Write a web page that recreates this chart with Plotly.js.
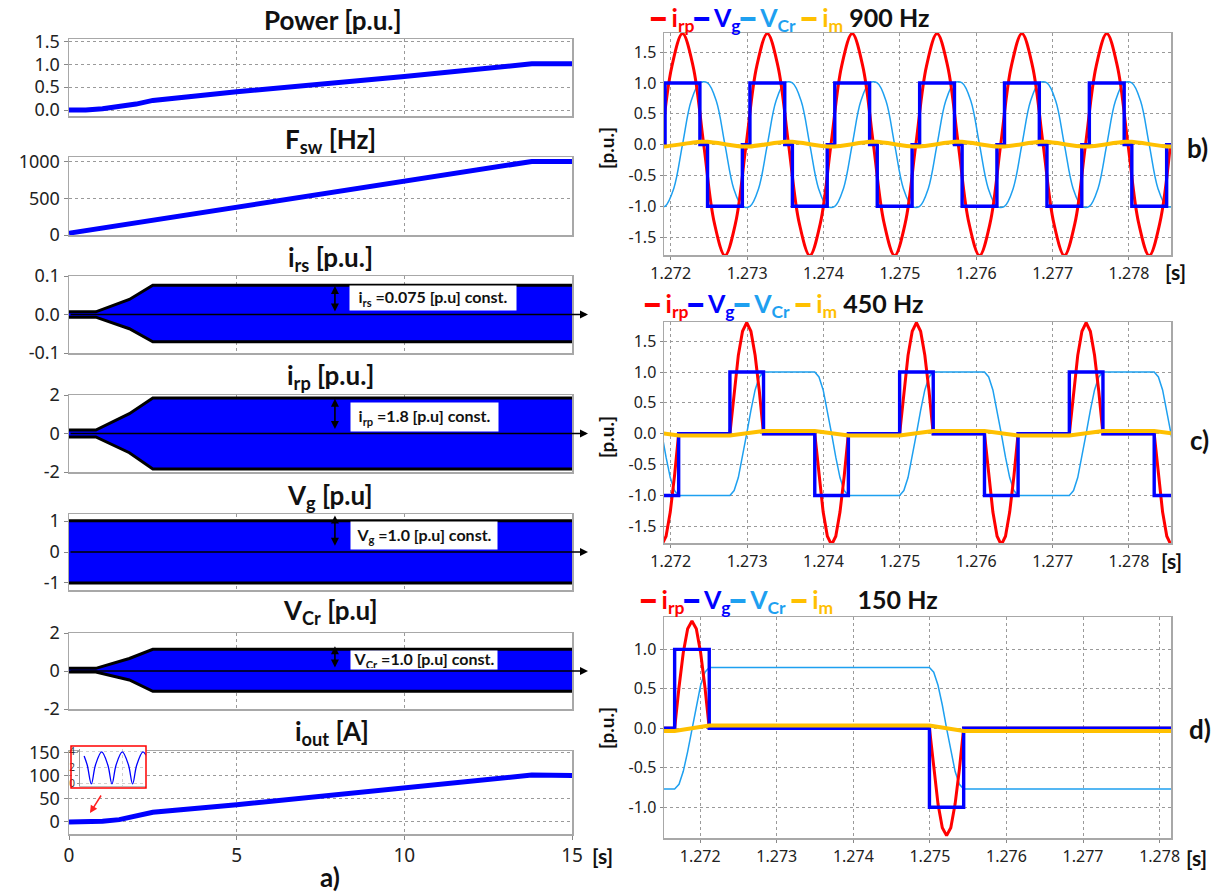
<!DOCTYPE html>
<html><head><meta charset="utf-8">
<script src="https://cdn.plot.ly/plotly-3.0.1.min.js"></script>
<style>html,body{margin:0;padding:0;background:#fff}</style>
</head><body><div id="chart" style="width:1218px;height:894px"></div>
<script>
// ---------- Left column (a) ----------
const tSlow = [0, 0.5, 1.0, 1.5, 2.0, 2.5, 5, 10, 13.8, 15];
const power = [0, 0.0, 0.03, 0.08, 0.13, 0.21, 0.40, 0.73, 1.01, 1.01];
const iout = [0, 0, 1.5, 5, 12, 21, 37, 74, 101, 100];
const tFsw = [0, 13.8, 15];
const fsw = [25, 1000, 1000];
const tEnv = [0, 0.8, 1.8, 2.5, 15];
const irsUp = [0.007, 0.007, 0.039, 0.076, 0.076];
const irsLo = [-0.007, -0.007, -0.037, -0.071, -0.071];
const irpUp = [0.18, 0.18, 1.03, 1.84, 1.84];
const irpLo = [-0.18, -0.18, -1.0, -1.84, -1.84];
const vgUp = [1.01, 1.01, 1.01, 1.01, 1.01];
const vgLo = [-1.0, -1.0, -1.0, -1.0, -1.0];
const vcrUp = [0.14, 0.14, 0.66, 1.14, 1.14];
const vcrLo = [-0.05, -0.05, -0.47, -1.07, -1.07];
// inset (rectified output current, A)
const insT = [0, 1.5, 3.5, 5.5, 8.5, 11.5, 13.5, 15.5, 18.5, 21.5, 23.5, 25.5, 28.5, 30];
const insI = [3.4, 2.3, 0, 2.3, 3.9, 2.3, 0, 2.3, 3.9, 2.3, 0, 2.3, 3.9, 3.5];

// ---------- b) 900 Hz ----------
const tRpB = [1.271876,1.272015,1.272154,1.272293,1.272432,1.272571,1.272710,1.272849,
  1.272987,1.273126,1.273265,1.273404,1.273543,1.273682,1.273821,1.273960,
  1.274098,1.274237,1.274376,1.274515,1.274654,1.274793,1.274932,1.275071,
  1.275209,1.275348,1.275487,1.275626,1.275765,1.275904,1.276043,1.276182,
  1.276320,1.276459,1.276598,1.276737,1.276876,1.277015,1.277154,1.277293,
  1.277431,1.277570,1.277709,1.277848,1.277987,1.278126,1.278265,1.278404,1.278542];
const irpB = [0,1.27,1.8,1.27,0,-1.27,-1.8,-1.27, 0,1.27,1.8,1.27,0,-1.27,-1.8,-1.27,
  0,1.27,1.8,1.27,0,-1.27,-1.8,-1.27, 0,1.27,1.8,1.27,0,-1.27,-1.8,-1.27,
  0,1.27,1.8,1.27,0,-1.27,-1.8,-1.27, 0,1.27,1.8,1.27,0,-1.27,-1.8,-1.27, 0];
const tVgB = [1.271900,1.271926,1.272382,1.272482,1.272938,1.273037,1.273493,1.273593,1.274049,
  1.274148,1.274604,1.274704,1.275160,1.275259,1.275715,1.275815,1.276271,1.276370,1.276826,
  1.276926,1.277382,1.277481,1.277937,1.278037,1.278493,1.278600];
const vgB = [0,1,0,-1,0,1,0,-1,0,1,0,-1,0,1,0,-1,0,1,0,-1,0,1,0,-1,0,0];
const imB = [-0.03,-0.03,0.045,0.045,-0.03,-0.03,0.045,0.045,-0.03,-0.03,0.045,0.045,-0.03,
  -0.03,0.045,0.045,-0.03,-0.03,0.045,0.045,-0.03,-0.03,0.045,0.045,-0.03,-0.03];
const tCrB = [1.271900,
  1.271926,1.272040,1.272154,1.272268,1.272382, 1.272482,1.272596,1.272710,1.272824,1.272938,
  1.273037,1.273151,1.273265,1.273379,1.273493, 1.273593,1.273707,1.273821,1.273935,1.274049,
  1.274148,1.274262,1.274376,1.274490,1.274604, 1.274704,1.274818,1.274932,1.275046,1.275160,
  1.275259,1.275373,1.275487,1.275601,1.275715, 1.275815,1.275929,1.276043,1.276157,1.276271,
  1.276370,1.276484,1.276598,1.276712,1.276826, 1.276926,1.277040,1.277154,1.277268,1.277382,
  1.277481,1.277595,1.277709,1.277823,1.277937, 1.278037,1.278151,1.278265,1.278379,1.278493,
  1.278600];
const vcrB = [-1,
  -1,-0.71,0,0.71,1, 1,0.71,0,-0.71,-1,
  -1,-0.71,0,0.71,1, 1,0.71,0,-0.71,-1,
  -1,-0.71,0,0.71,1, 1,0.71,0,-0.71,-1,
  -1,-0.71,0,0.71,1, 1,0.71,0,-0.71,-1,
  -1,-0.71,0,0.71,1, 1,0.71,0,-0.71,-1,
  -1,-0.71,0,0.71,1, 1,0.71,0,-0.71,-1,
  -1];

// ---------- c) 450 Hz ----------
const tPulseC = [
  1.271664,1.271719,1.271774,1.271829,1.271884,1.271939,1.271994,1.272049,1.272104,
  1.272775,1.272830,1.272885,1.272940,1.272995,1.273050,1.273105,1.273160,1.273215,
  1.273886,1.273941,1.273996,1.274051,1.274106,1.274161,1.274216,1.274271,1.274326,
  1.274997,1.275052,1.275107,1.275162,1.275217,1.275272,1.275327,1.275382,1.275437,
  1.276108,1.276163,1.276218,1.276273,1.276328,1.276383,1.276438,1.276493,1.276548,
  1.277219,1.277274,1.277329,1.277384,1.277439,1.277494,1.277549,1.277604,1.277659,
  1.278330,1.278385,1.278440,1.278495,1.278550,1.278605,1.278660,1.278715,1.278770];
const irpC = [
  0,-0.69,-1.27,-1.66,-1.8,-1.66,-1.27,-0.69,0,
  0,0.69,1.27,1.66,1.8,1.66,1.27,0.69,0,
  0,-0.69,-1.27,-1.66,-1.8,-1.66,-1.27,-0.69,0,
  0,0.69,1.27,1.66,1.8,1.66,1.27,0.69,0,
  0,-0.69,-1.27,-1.66,-1.8,-1.66,-1.27,-0.69,0,
  0,0.69,1.27,1.66,1.8,1.66,1.27,0.69,0,
  0,-0.69,-1.27,-1.66,-1.8,-1.66,-1.27,-0.69,0];
const vcrC = [
  1,0.92,0.71,0.38,0,-0.38,-0.71,-0.92,-1,
  -1,-0.92,-0.71,-0.38,0,0.38,0.71,0.92,1,
  1,0.92,0.71,0.38,0,-0.38,-0.71,-0.92,-1,
  -1,-0.92,-0.71,-0.38,0,0.38,0.71,0.92,1,
  1,0.92,0.71,0.38,0,-0.38,-0.71,-0.92,-1,
  -1,-0.92,-0.71,-0.38,0,0.38,0.71,0.92,1,
  1,0.92,0.71,0.38,0,-0.38,-0.71,-0.92,-1];
const tVgC = [1.271900,1.272104,1.272775,1.273215,1.273886,1.274326,1.274997,1.275437,
  1.276108,1.276548,1.277219,1.277659,1.278330,1.278600];
const vgC = [-1,0,1,0,-1,0,1,0,-1,0,1,0,-1,-1];
const imC = [0.005,-0.03,-0.03,0.045,0.045,-0.03,-0.03,0.045,0.045,-0.03,-0.03,0.045,0.045,0.0];

// ---------- d) 150 Hz ----------
const tPulseD = [1.271500,
  1.271666,1.271723,1.271779,1.271836,1.271892,1.271949,1.272005,1.272062,1.272118,
  1.274994,1.275050,1.275106,1.275162,1.275218,1.275273,1.275329,1.275385,1.275441,
  1.278200];
const irpD = [0, 0,0.52,0.96,1.26,1.36,1.26,0.96,0.52,0, 0,-0.52,-0.96,-1.26,-1.36,-1.26,-0.96,-0.52,0, 0];
const vcrD = [-0.77, -0.77,-0.71,-0.545,-0.295,0,0.295,0.545,0.71,0.77,
  0.77,0.71,0.545,0.295,0,-0.295,-0.545,-0.71,-0.77, -0.77];
const tVgD = [1.271500,1.271666,1.272118,1.274994,1.275441,1.278200];
const vgD = [0,1,0,-1,0,0];
const imD = [-0.035,-0.035,0.035,0.035,-0.035,-0.035];

// tick labels
const msTicks = [1.272,1.273,1.274,1.275,1.276,1.277,1.278];
const msLabels = ['1.272','1.273','1.274','1.275','1.276','1.277','1.278'];
const puTicksBC = [-1.5,-1,-0.5,0,0.5,1,1.5];
const puLabelsBC = ['-1.5','-1.0','-0.5','0.0','0.5','1.0','1.5'];
const puTicksD = [-1,-0.5,0,0.5,1];
const puLabelsD = ['-1.0','-0.5','0.0','0.5','1.0'];

// ---------- geometry ----------
const W = 1218, H = 894;
const fx = p => p / W, fy = p => 1 - p / H;
const TICKF = 'Noto Sans, DejaVu Sans, sans-serif';
const TITLEF = 'Lato, Noto Sans, sans-serif';
const BLUE = '#0000ff', RED = '#ff0000', CYAN = '#1ea0f0', YEL = '#ffc000';

const traces = [];
function add(o){ o.mode = 'lines'; o.showlegend = false; o.hoverinfo = 'skip'; traces.push(o); }
add({x: tSlow, y: power, xaxis:'x', yaxis:'y', line:{color:BLUE, width:5}});
add({x: tFsw, y: fsw, xaxis:'x2', yaxis:'y2', line:{color:BLUE, width:5}});
function env(lo, up, n){
  add({x: tEnv, y: lo, xaxis:'x'+n, yaxis:'y'+n, line:{color:'#000', width:3}});
  add({x: tEnv, y: up, xaxis:'x'+n, yaxis:'y'+n, line:{color:'#000', width:3}, fill:'tonexty', fillcolor:BLUE});
}
env(irsLo, irsUp, 3); env(irpLo, irpUp, 4); env(vgLo, vgUp, 5); env(vcrLo, vcrUp, 6);
add({x: tSlow, y: iout, xaxis:'x7', yaxis:'y7', line:{color:BLUE, width:5}});
add({x: insT, y: insI, xaxis:'x11', yaxis:'y11', line:{color:BLUE, width:1.3, shape:'spline'}});

function wave(n, tVg, vg, tCr, vcr, crShape, tRp, irp, rpShape, im, imShape){
  add({x: tCr, y: vcr, xaxis:'x'+n, yaxis:'y'+n, line:{color:CYAN, width:1.5, shape:crShape}});
  add({x: tRp, y: irp, xaxis:'x'+n, yaxis:'y'+n, line:{color:RED, width:3, shape:rpShape}});
  add({x: tVg, y: vg, xaxis:'x'+n, yaxis:'y'+n, line:{color:BLUE, width:3.4, shape:'hv'}});
  add({x: tVg, y: im, xaxis:'x'+n, yaxis:'y'+n, line:{color:YEL, width:4, shape:imShape, smoothing:0.6}});
}
wave(8, tVgB, vgB, tCrB, vcrB, 'spline', tRpB, irpB, 'spline', imB, 'spline');
wave(9, tVgC, vgC, tPulseC, vcrC, 'linear', tPulseC, irpC, 'linear', imC, 'linear');
wave(10, tVgD, vgD, tPulseD, vcrD, 'linear', tPulseD, irpD, 'linear', imD, 'linear');

const layout = {width: W, height: H, margin:{l:0,r:0,t:0,b:0}, paper_bgcolor:'#fff', plot_bgcolor:'#fff',
  showlegend:false, font:{family:TICKF, color:'#222'}};
const GRID = {showgrid:true, gridcolor:'#9a9a9a', griddash:'dot', gridwidth:1, zeroline:false,
  showline:true, mirror:true, linecolor:'#a8a8a8', linewidth:1.5, fixedrange:true};

const leftRows = [[39,116],[157,235],[276,353],[395,472],[514,590],[633,709],[751,834]];
const leftY = [
  {range:[-0.13,1.55], tickvals:[0,0.5,1,1.5], ticktext:['0.0','0.5','1.0','1.5']},
  {range:[0,1060], tickvals:[0,500,1000], ticktext:['0','500','1000']},
  {range:[-0.1,0.1], tickvals:[-0.1,0,0.1], ticktext:['-0.1','0.0','0.1']},
  {range:[-2,2], tickvals:[-2,0,2], ticktext:['-2','0','2']},
  {range:[-1.23,1.23], tickvals:[-1,0,1], ticktext:['-1','0','1']},
  {range:[-2,2], tickvals:[-2,0,2], ticktext:['-2','0','2']},
  {range:[-26,153], tickvals:[0,50,100,150], ticktext:['0','50','100','150']}
];
leftRows.forEach((r, i) => {
  const n = i + 1, s = n === 1 ? '' : String(n);
  layout['xaxis'+s] = Object.assign({}, GRID, {domain:[fx(69), fx(572)], range:[0,15], anchor:'y'+s,
    tickvals:[0,5,10,15], ticktext:['0','5','10','15'], showticklabels: n === 7,
    ticks: n === 7 ? 'outside' : '', ticklen:4, tickcolor:'#888', tickfont:{size:19, family:TICKF, color:'#222'}});
  layout['yaxis'+s] = Object.assign({}, GRID, leftY[i], {domain:[fy(r[1]), fy(r[0])], anchor:'x'+s,
    ticks:'outside', ticklen:4, tickcolor:'#888', tickfont:{size:18, family:TICKF, color:'#222'}});
});
const rightRows = [[33,255],[322,543],[617,838]];
const rightX = [[1.271912,1.27855],[1.271912,1.27855],[1.271527,1.278149]];
const rightY = [[-1.79,1.81],[-1.77,1.81],[-1.39,1.41]];
rightRows.forEach((r, i) => {
  const n = i + 8;
  layout['xaxis'+n] = Object.assign({}, GRID, {domain:[fx(664), fx(1171)], range:rightX[i], anchor:'y'+n,
    tickvals:msTicks, ticktext:msLabels, ticks:'outside', ticklen:3, tickcolor:'#888',
    tickfont:{size:16, family:TICKF, color:'#222'}});
  layout['yaxis'+n] = Object.assign({}, GRID, {domain:[fy(r[1]), fy(r[0])], range:rightY[i], anchor:'x'+n,
    tickvals: i < 2 ? puTicksBC : puTicksD, ticktext: i < 2 ? puLabelsBC : puLabelsD,
    ticks:'outside', ticklen:3, tickcolor:'#888', tickfont:{size:16, family:TICKF, color:'#222'}});
});
// inset axes
layout.xaxis11 = {domain:[fx(80), fx(146)], range:[-2,30], anchor:'y11', showticklabels:false,
  showgrid:true, gridcolor:'#cfcfcf', griddash:'dot', tickvals:[18.5], zeroline:false, showline:true, mirror:false,
  linecolor:'#bbb', linewidth:1, fixedrange:true};
layout.yaxis11 = {domain:[fy(786), fy(749)], range:[-0.25,4.25], anchor:'x11', tickvals:[0,2,4], ticktext:['0','2','4'],
  tickfont:{size:10, family:TICKF, color:'#333'}, ticklen:2, ticks:'outside', tickcolor:'#999', showgrid:true,
  gridcolor:'#cfcfcf', griddash:'dot', zeroline:false, showline:true, mirror:false, linecolor:'#999', linewidth:1, fixedrange:true};

const ann = [];
function txt(text, x, y, size, extra){
  ann.push(Object.assign({text, xref:'paper', yref:'paper', x:fx(x), y:fy(y), showarrow:false,
    font:{family:TITLEF, size, color:'#111', weight:700}, xanchor:'center', yanchor:'middle'}, extra || {}));
}
txt('Power [p.u.]', 333, 20, 26);
txt('F<sub>sw</sub> [Hz]', 330, 141, 26);
txt('i<sub>rs</sub> [p.u.]', 330, 258, 26);
txt('i<sub>rp</sub> [p.u.]', 330, 377, 26);
txt('V<sub>g</sub> [p.u]', 330, 496, 26);
txt('V<sub>Cr</sub> [p.u]', 330, 611, 26);
txt('i<sub>out</sub> [A]', 332, 732, 26);
txt('a)', 330, 877, 26);
txt('[s]', 602, 855, 21);
txt('b)', 1197, 148, 26); txt('c)', 1199, 440, 26); txt('d)', 1200, 729, 26);
txt('[s]', 1175, 272, 21); txt('[s]', 1171, 560, 21); txt('[s]', 1196, 857, 21);
[148, 437, 728].forEach(y => txt('[p.u.]', 606, y, 19, {textangle:-90}));

function dash(c){ return '<span style="color:'+c+';font-family:DejaVu Sans;font-size:24px">━</span>'; }
function legendRow(x, y, hz, gap){
  const t = dash(RED) + ' <span style="color:'+RED+'">i<sub>rp</sub></span>' +
    dash(BLUE) + ' <span style="color:'+BLUE+'">V<sub>g</sub></span>' +
    dash(CYAN) + ' <span style="color:'+CYAN+'">V<sub>Cr</sub></span> ' +
    dash(YEL) + ' <span style="color:'+YEL+'">i<sub>m</sub></span>' + gap +
    '<span style="color:#111">' + hz + '</span>';
  txt(t, x, y, 25, {xanchor:'left'});
}
legendRow(648, 19, '900 Hz', ' ');
legendRow(642, 305, '450 Hz', ' ');
legendRow(638, 601, '150 Hz', '&nbsp;&nbsp;&nbsp;&nbsp;');

// value boxes
function box(text, n, x, y, w, h){
  ann.push({text, xref:'x'+n, yref:'y'+n, x, y, showarrow:false, bgcolor:'#fff', width:w, height:h,
    font:{family:TITLEF, size:16, color:'#111', weight:700}, xanchor:'center', yanchor:'middle'});
}
box('i<sub>rs</sub> =0.075 [p.u] const.', 3, 10.85, 0.042, 164, 22);
box('i<sub>rp</sub> =1.8 [p.u] const.', 4, 10.6, 0.87, 145, 26);
box('V<sub>g</sub> =1.0 [p.u] const.', 5, 10.6, 0.55, 144, 25);
box('V<sub>Cr</sub> =1.0 [p.u] const.', 6, 10.6, 0.6, 144, 16);
// vertical double arrows
function dbl(n, yTop, yBot){
  ann.push({xref:'x'+n, yref:'y'+n, axref:'x'+n, ayref:'y'+n, x:7.93, y:yTop, ax:7.93, ay:yBot, text:'',
    showarrow:true, arrowhead:2, startarrowhead:2, arrowside:'end+start', arrowsize:1, arrowwidth:1.6, arrowcolor:'#000'});
}
dbl(3, 0.074, 0.004); dbl(4, 1.8, 0.15); dbl(5, 1.18, 0.15); dbl(6, 1.3, 0.1);
// horizontal zero arrows
[3,4,5,6].forEach(n => ann.push({xref:'paper', yref:'y'+n, x:fx(588), y:0, ax:-(588-69), ay:0, text:'',
  showarrow:true, arrowhead:2, arrowsize:1, arrowwidth:1.6, arrowcolor:'#000'}));
// red arrow toward inset origin
ann.push({xref:'paper', yref:'paper', x:fx(90), y:fy(813), ax:12, ay:-19, text:'', showarrow:true,
  arrowhead:2, arrowsize:1, arrowwidth:1.5, arrowcolor:'#ff2020'});
layout.annotations = ann;
layout.shapes = [{type:'rect', xref:'paper', yref:'paper', x0:fx(71), x1:fx(146), y0:fy(788), y1:fy(746),
  line:{color:'#ff0000', width:1.5}, fillcolor:'rgba(0,0,0,0)'}];

Plotly.newPlot('chart', traces, layout, {staticPlot:true, displayModeBar:false});
</script></body></html>
